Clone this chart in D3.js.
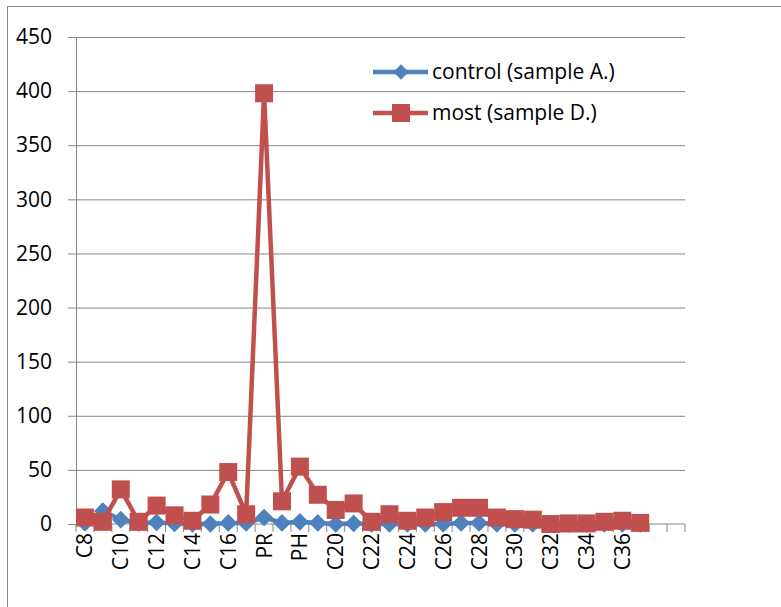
<!DOCTYPE html>
<html>
<head>
<meta charset="utf-8">
<script src="https://cdn.jsdelivr.net/npm/d3@7"></script>
<style>
  body { margin: 0; background: #fff; }
  svg text { font-family: "Open Sans", "Liberation Sans", sans-serif; fill: #000; }
</style>
</head>
<body>
<svg id="chart" width="781" height="607"></svg>
<script>
// categories along the x axis (last two slots are empty in the original)
const categories = ["C8","C9","C10","C11","C12","C13","C14","C15","C16","C17","PR","C18","PH",
  "C19","C20","C21","C22","C23","C24","C25","C26","C27","C28","C29","C30","C31","C32","C33",
  "C34","C35","C36","C37","",""];
const seriesNames = ["control (sample A.)", "most (sample D.)"];
const controlA = [1,12,4,1,1.5,0.5,0,0,1,1,6,1,2,1,0,0.5,0,0,0,0,0,1,1,0,0,0,0,0,0,0,0,0];
const mostD = [6,2,32,2,17,8,3,18,48,9,398,21,53,27,13,19,2,9,3,6,11,15,15,6,4.5,4,0,0.5,0.5,2,3,1];
const yTicks = [0,50,100,150,200,250,300,350,400,450];

const width = 781, height = 607;
const plot = { left: 76, right: 685, top: 37, bottom: 524 };
const colors = ["#4f81bd", "#c0504d"];
const grid = "#868686";
const fs = 21;

const svg = d3.select('#chart');

// outer frame of the chart area
svg.append('rect')
   .attr('x', 7.5).attr('y', 6.5)
   .attr('width', width + 10).attr('height', height + 10)
   .attr('fill', 'none').attr('stroke', grid).attr('stroke-width', 1);

const x = d3.scaleBand().domain(d3.range(categories.length))
            .range([plot.left, plot.right]);
const y = d3.scaleLinear().domain([0, 450]).range([plot.bottom, plot.top]);

// horizontal gridlines + y axis labels
const yAxis = svg.append('g').attr('transform', `translate(${plot.left},0)`)
   .call(d3.axisLeft(y).tickValues(yTicks).tickSize(8).tickPadding(16)
           .tickFormat(d3.format('d')));
yAxis.select('.domain').attr('stroke', grid);
yAxis.selectAll('.tick line').attr('stroke', grid);
yAxis.selectAll('.tick text').attr('font-size', fs).attr('fill', '#000')
     .style('font-family', '"Open Sans", sans-serif');
yAxis.selectAll('.tick').filter(d => d > 0).append('line')
     .attr('x1', 0).attr('x2', plot.right - plot.left).attr('stroke', grid);

// x axis: ticks at category boundaries
const xg = svg.append('g').attr('transform', `translate(0,${plot.bottom})`);
xg.append('line').attr('x1', plot.left).attr('x2', plot.right)
  .attr('stroke', grid);
xg.selectAll('line.tk').data(d3.range(categories.length + 1)).enter()
  .append('line').attr('class', 'tk')
  .attr('x1', i => plot.left + i * x.step()).attr('x2', i => plot.left + i * x.step())
  .attr('y1', 0).attr('y2', 8).attr('stroke', grid);
xg.selectAll('text').data(categories.map((c, i) => ({c, i})).filter(d => d.i % 2 === 0 && d.c))
  .enter().append('text')
  .attr('transform', d => `translate(${x(d.i) + x.bandwidth() / 2 + 7.5},9) rotate(-90)`)
  .attr('text-anchor', 'end')
  .attr('font-size', fs)
  .text(d => d.c);

const cx = i => x(i) + x.bandwidth() / 2;
const line = d3.line().x((d, i) => cx(i)).y(d => y(d));

// control series: line + diamonds
svg.append('path').datum(controlA).attr('d', line)
   .attr('fill', 'none').attr('stroke', colors[0]).attr('stroke-width', 4.5)
   .attr('stroke-linejoin', 'round');
svg.selectAll('path.dia').data(controlA).enter().append('path').attr('class', 'dia')
   .attr('d', d3.symbol(d3.symbolDiamond2, 200)())
   .attr('transform', (d, i) => `translate(${cx(i)},${y(d)})`)
   .attr('fill', colors[0]);

// most series: line + squares
svg.append('path').datum(mostD).attr('d', line)
   .attr('fill', 'none').attr('stroke', colors[1]).attr('stroke-width', 4.5)
   .attr('stroke-linejoin', 'round');
svg.selectAll('rect.sq').data(mostD).enter().append('rect').attr('class', 'sq')
   .attr('x', (d, i) => cx(i) - 9).attr('y', d => y(d) - 9)
   .attr('width', 18).attr('height', 18)
   .attr('fill', colors[1]);

// legend
const lg = svg.append('g');
seriesNames.forEach((name, k) => {
  const ly = 72 + k * 41;
  lg.append('line').attr('x1', 373).attr('x2', 428).attr('y1', ly).attr('y2', ly)
    .attr('stroke', colors[k]).attr('stroke-width', 4.5);
  if (k === 0) {
    lg.append('path').attr('d', d3.symbol(d3.symbolDiamond2, 150)())
      .attr('transform', `translate(401,${ly})`).attr('fill', colors[k]);
  } else {
    lg.append('rect').attr('x', 392).attr('y', ly - 9).attr('width', 18).attr('height', 18)
      .attr('fill', colors[k]);
  }
  lg.append('text').attr('x', 432).attr('y', ly + 7).attr('font-size', fs).text(name);
});
</script>
</body>
</html>
